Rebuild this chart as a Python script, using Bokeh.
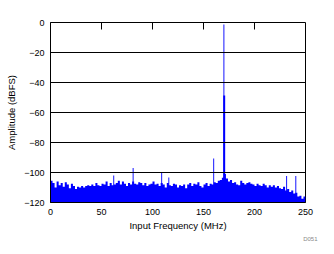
import math
from bokeh.plotting import figure
from bokeh.models import FixedTicker, Title, Range1d
from bokeh.embed import file_html
from bokeh.resources import INLINE

# Noise floor, 2 MHz bins (bin start frequency)
bin_start = [2 * i for i in range(125)]
bin_level = [
    -105.5, -107, -110, -106, -108.5, -107, -109.5, -106.5, -108, -110.5,
    -107.5, -109, -111, -109.5, -110, -109, -110, -109, -108.5, -109,
    -108, -109, -107, -108.5, -109, -107.5, -108, -106, -109, -107,
    -108.5, -108, -107, -105.5, -108, -106, -107.5, -109, -107, -108,
    -106, -107.5, -108, -106.5, -107, -108.5, -107, -109, -108, -107.5,
    -106, -108, -107.5, -109, -107, -108, -110, -107, -108.5, -109,
    -107.5, -108, -110, -108.5, -109, -108, -110.5, -108, -107, -109,
    -107.5, -108, -106.5, -109, -110, -108, -107, -109, -107.5, -108,
    -106.5, -107, -105.5, -105, -103.5, -101, -104, -106, -105, -107,
    -106.5, -108, -108.5, -105.5, -107, -108, -107, -106.5, -107.5, -108,
    -109, -107.5, -108.5, -109, -107.5, -108.5, -110, -108.5, -109.5, -108.5,
    -110, -109, -110.5, -111, -109.5, -112, -111, -113, -112, -114,
    -113.5, -116, -115.5, -117.5, -116,
]

# Narrow spurs and the fundamental
spur_freq = [62, 81, 109, 116, 160, 170, 231.5, 240.5]
spur_level = [-102, -97, -100.4, -103.3, -90.7, -1.3, -102.4, -102.4]

# Wider skirt of the fundamental
skirt_freq = [170.3]
skirt_level = [-48.7]

x_ticks = [0, 50, 100, 150, 200, 250]
top_ticks = [50, 100, 150, 200]
y_ticks = [-120, -100, -80, -60, -40, -20, 0]

FONT = "Liberation Sans"
BLUE = "#0000FF"

p = figure(
    width=334, height=254, output_backend="svg", toolbar_location=None,
    x_range=Range1d(0, 250), y_range=Range1d(-120, 0),
    frame_width=255, frame_height=180,
    min_border_left=50, min_border_top=22, min_border_right=29, min_border_bottom=52,
    x_axis_label="Input Frequency (MHz)", y_axis_label="Amplitude (dBFS)",
)
p.outline_line_color = "black"
p.outline_line_width = 1
p.background_fill_color = "white"
p.border_fill_color = "white"

step_x = bin_start + [250]
step_y = bin_level + [bin_level[-1]]
p.varea_step(x=step_x, y1=-120, y2=step_y, step_mode="after", fill_color=BLUE)
p.vbar(x=spur_freq, top=spur_level, bottom=-120, width=0.9,
       fill_color=BLUE, line_color=None)
p.vbar(x=skirt_freq, top=skirt_level, bottom=-120, width=1.9,
       fill_color=BLUE, line_color=None)

# inward tick marks along the top border
p.ray(x=top_ticks, y=0, length=7, length_units="screen", angle=-math.pi / 2,
      line_color="black", line_width=1)

p.xgrid.visible = False
p.ygrid.ticker = FixedTicker(ticks=y_ticks)
p.ygrid.grid_line_color = "black"
p.ygrid.grid_line_width = 1
p.ygrid.level = "overlay"

for ax in p.xaxis:
    ax.ticker = FixedTicker(ticks=x_ticks)
for ax in p.yaxis:
    ax.ticker = FixedTicker(ticks=y_ticks)

for ax in list(p.xaxis) + list(p.yaxis):
    ax.major_tick_in = 0
    ax.major_tick_out = 0
    ax.minor_tick_line_color = None
    ax.axis_line_color = "black"
    ax.major_label_text_font = FONT
    ax.major_label_text_font_size = "9px"
    ax.major_label_text_color = "black"
    ax.axis_label_text_font = FONT
    ax.axis_label_text_font_size = "9.5px"
    ax.axis_label_text_font_style = "normal"
    ax.axis_label_text_color = "black"
    ax.major_label_standoff = 6
p.xaxis.axis_label_standoff = 2
p.yaxis.axis_label_standoff = 4

p.add_layout(Title(text="D051", align="right", offset=-12, standoff=0,
                   text_font=FONT, text_font_size="6px", text_font_style="normal",
                   text_color="#888888"), "below")

open("out.html", "w").write(file_html(p, INLINE))
